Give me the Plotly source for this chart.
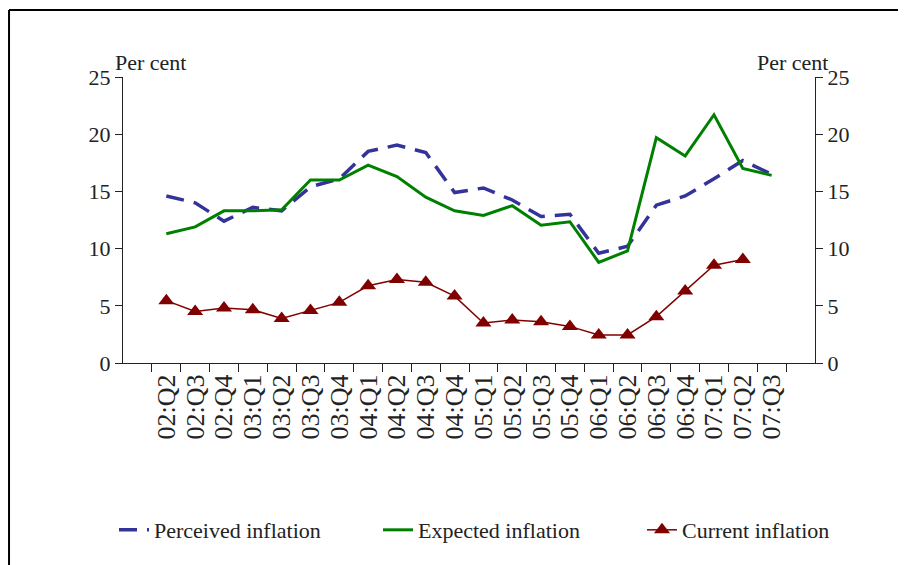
import plotly.graph_objects as go

quarters = ["02:Q2", "02:Q3", "02:Q4", "03:Q1", "03:Q2", "03:Q3", "03:Q4",
            "04:Q1", "04:Q2", "04:Q3", "04:Q4", "05:Q1", "05:Q2", "05:Q3",
            "05:Q4", "06:Q1", "06:Q2", "06:Q3", "06:Q4", "07:Q1", "07:Q2", "07:Q3"]

perceived = [14.6, 14.0, 12.4, 13.6, 13.3, 15.4, 16.1, 18.5, 19.05, 18.4, 14.9,
             15.3, 14.25, 12.8, 13.0, 9.6, 10.2, 13.8, 14.6, 16.1, 17.7, 16.5]
expected = [11.3, 11.9, 13.3, 13.3, 13.4, 16.0, 16.0, 17.3, 16.3, 14.5, 13.3,
            12.9, 13.75, 12.05, 12.35, 8.8, 9.8, 19.7, 18.1, 21.7, 17.0, 16.4]
current = [5.45, 4.5, 4.8, 4.65, 3.9, 4.6, 5.3, 6.75, 7.3, 7.05, 5.85,
           3.5, 3.75, 3.6, 3.2, 2.45, 2.45, 4.05, 6.3, 8.55, 9.05, None]

serif = "Liberation Serif, DejaVu Serif, serif"
ink = "#222222"

fig = go.Figure()

fig.add_trace(go.Scatter(
    x=quarters, y=perceived, mode="lines", name="Perceived inflation",
    line=dict(color="#333399", width=3.5, dash="18px,10px")
))
fig.add_trace(go.Scatter(
    x=quarters, y=expected, mode="lines", name="Expected inflation",
    line=dict(color="#008000", width=3)
))
fig.add_trace(go.Scatter(
    x=quarters, y=current, mode="lines+markers", name="Current inflation",
    line=dict(color="#800000", width=1.5),
    marker=dict(symbol="triangle-up", size=14, color="#800000")
))
# invisible trace to carry the right-hand axis
fig.add_trace(go.Scatter(
    x=quarters, y=expected, yaxis="y2", mode="lines", showlegend=False,
    hoverinfo="skip", line=dict(width=0), opacity=0
))

axis_font = dict(family=serif, size=22, color=ink)

fig.update_layout(
    width=898, height=557,
    margin=dict(l=115, r=91, t=69, b=202),
    paper_bgcolor="white", plot_bgcolor="white",
    font=dict(family=serif, size=22, color=ink),
    xaxis=dict(
        type="category", tickangle=-90, tickson="boundaries",
        tickmode="array", tickvals=quarters, ticktext=quarters,
        ticks="outside", ticklen=8, tickcolor=ink, tickwidth=1,
        showline=True, linecolor=ink, linewidth=1,
        showgrid=False, zeroline=False,
        tickfont=dict(family=serif, size=26, color=ink)
    ),
    yaxis=dict(
        range=[0, 25], dtick=5, ticks="outside", ticklen=7,
        tickcolor=ink, showline=True, linecolor=ink, linewidth=1,
        showgrid=False, zeroline=False, tickfont=axis_font
    ),
    yaxis2=dict(
        range=[0, 25], dtick=5, overlaying="y", side="right",
        ticks="outside", ticklen=7, tickcolor=ink, showline=True,
        linecolor=ink, linewidth=1, showgrid=False, zeroline=False,
        tickfont=axis_font
    ),
    showlegend=True,
    legend=dict(
        orientation="h", x=-0.012, xanchor="left", y=-0.584, yanchor="middle",
        font=dict(family=serif, size=22, color=ink),
        entrywidth=219, bgcolor="rgba(0,0,0,0)"
    ),
    annotations=[
        dict(text="Per cent", x=-0.015, xref="paper", y=1.05, yref="paper",
             xanchor="left", yanchor="middle", showarrow=False,
             font=dict(family=serif, size=22, color=ink)),
        dict(text="Per cent", x=1.022, xref="paper", y=1.05, yref="paper",
             xanchor="right", yanchor="middle", showarrow=False,
             font=dict(family=serif, size=22, color=ink)),
    ],
    shapes=[
        dict(type="line", xref="paper", yref="paper", x0=-0.1647, x1=1.14,
             y0=1.234, y1=1.234, line=dict(color="black", width=2)),
        dict(type="line", xref="paper", yref="paper", x0=-0.1647, x1=-0.1647,
             y0=1.234, y1=-0.71, line=dict(color="black", width=2)),
    ],
)

fig.write_html("out.html")
